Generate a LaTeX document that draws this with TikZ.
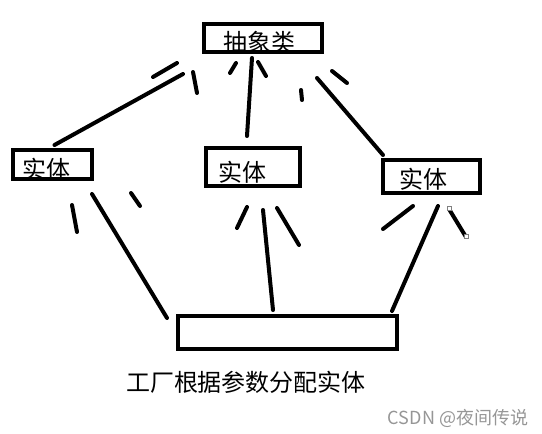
\documentclass[tikz,border=0pt]{standalone}
\usepackage{fontspec}
\usepackage{xcolor}
\usetikzlibrary{calc}
\newfontfamily\cjk{Noto Sans CJK SC}
\definecolor{wmgray}{RGB}{150,150,150}

\tikzset{
  box/.style={draw,line width=4pt,inner sep=0pt},
  conn/.style={line width=4pt,line cap=round},
  flick/.style={line width=4pt,line cap=round},
}

\begin{document}
\begin{tikzpicture}[x=1pt,y=-1pt]
                \useasboundingbox (0,0) rectangle (542,434);
                % boxes
                \node[box,minimum width=118pt,minimum height=28pt,
                      label={[shift={(-4pt,-4pt)},font=\cjk\fontsize{24}{28}\selectfont]center:抽象类}]
                      (abs) at (263,38) {};
                \node[box,minimum width=79pt,minimum height=29pt,
                      label={[shift={(-6pt,-5pt)},font=\cjk\fontsize{24}{28}\selectfont]center:实体}]
                      (left) at (52.5,164.5) {};
                \node[box,minimum width=94pt,minimum height=38pt,
                      label={[shift={(-11pt,-5pt)},font=\cjk\fontsize{24}{28}\selectfont]center:实体}]
                      (mid) at (253,167) {};
                \node[box,minimum width=97pt,minimum height=33pt,
                      label={[shift={(-8pt,-3pt)},font=\cjk\fontsize{24}{28}\selectfont]center:实体}]
                      (right) at (431.5,176.5) {};
                \node[box,minimum width=219pt,minimum height=33pt] (fac) at (287.5,332.5) {};
                % connectors
                \draw[conn]($(abs.south west)+(-19,20)$)--($(left.north)+(2,-3)$);
                \draw[conn]($(abs.south)+(-11,4)$)--($(mid.north)+(-6,-10)$);
                \draw[conn]($(abs.south east)+(-7,24)$)--($(right.north west)+(2,-3)$);
                \draw[conn]($(left.south east)+(-2,13)$)--($(fac.north west)+(-9,4)$);
                \draw[conn]($(mid.south)+(10,22)$)--($(fac.north)+(-14.5,-4)$);
                \draw[conn]($(right.south)+(6.5,11)$)--($(fac.north east)+(-7,-3)$);
                % little strokes
                \draw[flick](153,77)--(177,63);
                \draw[flick](193,72)--(197,93);
                \draw[flick](230,73)--(236,63);
                \draw[flick](258,62)--(266,76);
                \draw[flick](332,71)--(347,83);
                \draw[flick](301,90)--(302,100);
                \draw[flick](72,205)--(77,232);
                \draw[flick](131,193)--(140,206);
                \draw[flick](247,207)--(237,228);
                \draw[flick](277,208)--(299,245);
                \draw[flick](413,206)--(383,229);
                \draw[flick](449,209)--(466,237);
                \draw[gray,fill=white,line width=0.6pt](447.5,206.5) rectangle ++(3.5,3.5);
                \draw[gray,fill=white,line width=0.6pt](464.5,234.5) rectangle ++(3.5,3.5);
                % texts
                \node[font=\cjk\fontsize{24}{28}\selectfont] (cap) at (246,382) {工厂根据参数分配实体};
                \node[font=\cjk\fontsize{18}{22}\selectfont,text=wmgray] (wm) at (458,418) {CSDN @夜间传说};
\end{tikzpicture}
\end{document}
